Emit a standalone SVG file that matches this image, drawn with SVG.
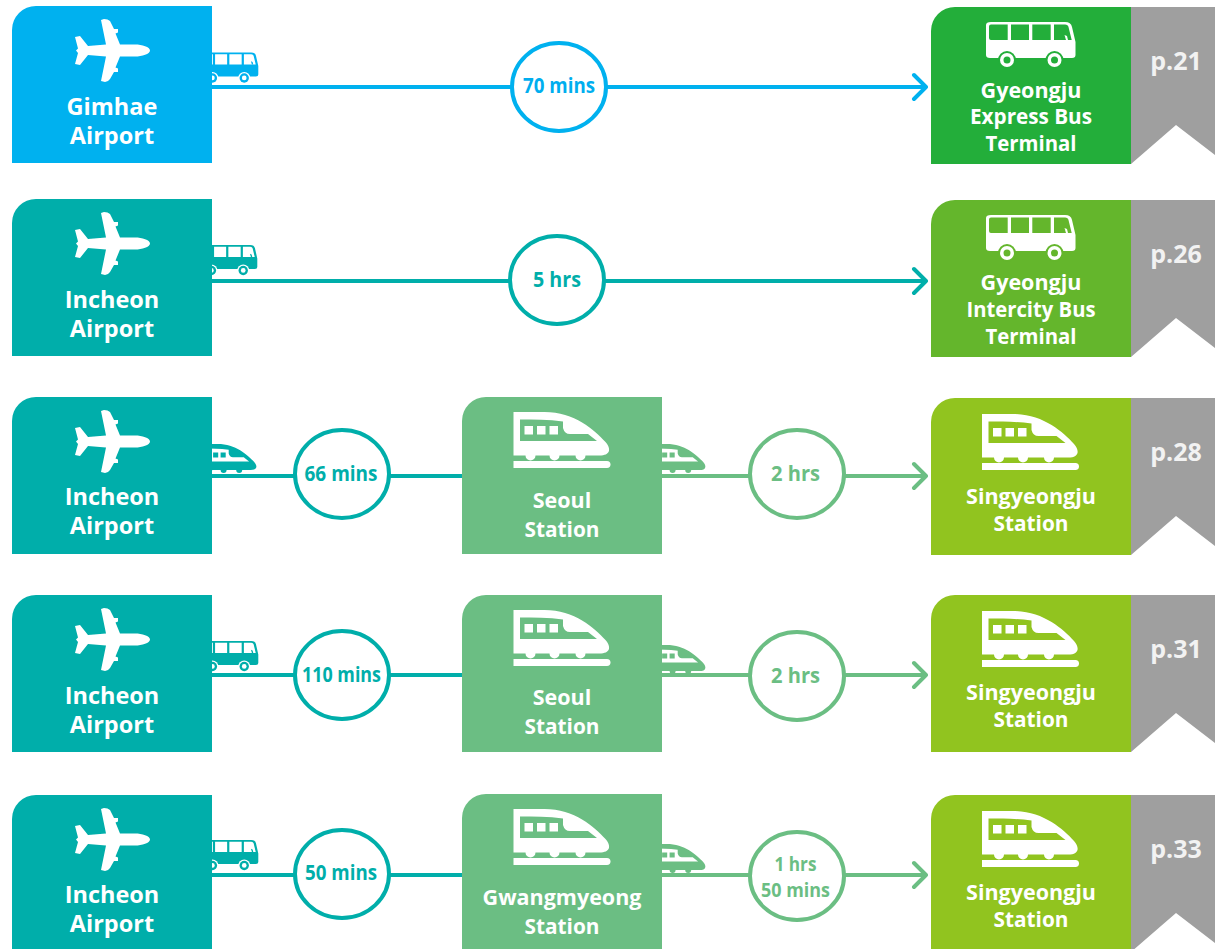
<svg xmlns="http://www.w3.org/2000/svg" width="1215" height="949" viewBox="0 0 1215 949">
<style>
text{font-family:"Open Sans","Noto Sans","Liberation Sans",sans-serif;font-weight:700;text-anchor:middle}
.a{font-size:23.500px;fill:#fff}
.b{font-size:21.500px;fill:#fff}
.c{font-size:21px}
.d{font-size:19.500px}
.p{font-size:25px;fill:#f2f2f2}
.t{stroke:#00aeaa}.g{stroke:#6bbe83}.l{stroke:#00b1ef}
.ln{stroke-width:4;fill:none;stroke-linecap:round;stroke-linejoin:round}
.o{fill:#fff;stroke-width:4}
</style>
<defs>
<path id="card" d="M0 157V24A24 24 0 0 1 24 0H200V157Z"/>
<path id="tab" fill="#9f9f9f" d="M0 0H84V148L45 118L0 157Z"/>
<path id="plane" d="M150 50.500C150 47 142 44.500 135 44.500H120L115.500 33.500 118 32.500V29H114L110 21Q108 19 104 19L101 20 106 44.500 88 46 80 36 75 37 78 48.500 76 50.500 78 53 75 64 80 65 88 55 106 56.500 101 81 105 82Q108 82 110 79L114 72H118V68.500L115.500 67.500 120 56.500H135C142 56.500 150 54 150 50.500Z"/>
<g id="bus">
<path d="M4 0H78Q84 0 85 5L88.500 20V33Q88.500 36 85 36H3Q-1 36 -1 33V3Q-1 0 4 0Z"/>
<path fill="currentColor" d="M4 2.500H20.700V18H4Q2 18 2 16V4.500Q2 2.500 4 2.500ZM24 2.500H42V18H24ZM45.300 2.500H63.700V18H45.300ZM67 2.500H78Q81 2.500 81.500 5L84.700 18H67Z"/>
<path d="M77.500 13L80 14 81 18H79Z"/>
<circle cx="20" cy="38" r="9" fill="currentColor"/><circle cx="67.500" cy="38" r="9" fill="currentColor"/>
<circle cx="20" cy="38" r="7"/><circle cx="67.500" cy="38" r="7"/>
<circle cx="20" cy="38" r="3.500" fill="currentColor"/><circle cx="67.500" cy="38" r="3.500" fill="currentColor"/>
</g>
<g id="train-body">
<path d="M0 0H31C61 0 81 18 92 30 98 37 97 43.500 86 43.500H72A5 5 0 0 1 62 43.500H46A5 5 0 0 1 36 43.500H22A5 5 0 0 1 12 43.500H0Z"/>
<path fill="currentColor" d="M6.500 7.500C20 7.500 35 7.500 49.500 9.500V16Q51 22 56.500 22H74.500L83.500 29H6.500Z"/>
<path d="M11 14H19.500V22.500H11ZM23.500 14H32V22.500H23.500ZM36 14H44.500V22.500H36Z"/>
</g>
<g id="train">
<use href="#train-body"/>
<path d="M0 49H93.500A3.500 3.500 0 0 1 93.500 56H0Z"/>
</g>
</defs>

<g id="connectors">
<path class="ln l" d="M212 87H926M914 75L926 87 914 99"/>
<path class="ln t" d="M212 281H926M914 269L926 281 914 293"/>
<path class="ln t" d="M212 476H462"/><path class="ln g" d="M661 476H926M914 464L926 476 914 488"/>
<path class="ln t" d="M212 675H462"/><path class="ln g" d="M661 675H926M914 663L926 675 914 687"/>
<path class="ln t" d="M212 875H462"/><path class="ln g" d="M661 875H926M914 863L926 875 914 887"/>
</g>

<g id="mini-icons">
<use href="#bus" transform="translate(199 52.500) scale(.67)" fill="#00b1ef" color="#fff"/>
<use href="#bus" transform="translate(198 245) scale(.67)" fill="#00aeaa" color="#fff"/>
<use href="#train-body" transform="translate(199 444) scale(.6)" fill="#00aeaa" color="#fff"/>
<use href="#train-body" transform="translate(648 444) scale(.6)" fill="#6bbe83" color="#fff"/>
<use href="#bus" transform="translate(199 641) scale(.67)" fill="#00aeaa" color="#fff"/>
<use href="#train-body" transform="translate(648 645) scale(.6)" fill="#6bbe83" color="#fff"/>
<use href="#bus" transform="translate(199 840) scale(.67)" fill="#00aeaa" color="#fff"/>
<use href="#train-body" transform="translate(648 844) scale(.6)" fill="#6bbe83" color="#fff"/>
</g>

<g id="n1-gimhae"><use href="#card" x="12" y="6" fill="#00b1ef"/><use href="#plane" fill="#fff"/><text class="a" x="112" y="115">Gimhae</text><text class="a" x="112" y="144">Airport</text></g>
<g id="n1-time"><ellipse class="o l" cx="559" cy="87" rx="47" ry="44"/><text class="c" x="559" y="93" fill="#00aeef" textLength="72" lengthAdjust="spacingAndGlyphs">70 mins</text></g>
<g id="n1-terminal"><use href="#card" x="931" y="7" fill="#23ae3a"/><use href="#bus" x="987" y="22" fill="#fff" color="#23ae3a"/><text class="b" x="1031" y="98">Gyeongju</text><text class="b" x="1031" y="124" textLength="122" lengthAdjust="spacingAndGlyphs">Express Bus</text><text class="b" x="1031" y="151" textLength="91" lengthAdjust="spacingAndGlyphs">Terminal</text></g>
<g id="n1-page"><use href="#tab" x="1131" y="7"/><text class="p" x="1176" y="70">p.21</text></g>

<g id="n2-incheon"><use href="#card" x="12" y="199" fill="#00aeaa"/><use href="#plane" y="193" fill="#fff"/><text class="a" x="112" y="308">Incheon</text><text class="a" x="112" y="337">Airport</text></g>
<g id="n2-time"><ellipse class="o t" cx="557" cy="280" rx="47" ry="44"/><text class="c" x="557" y="287" fill="#00aeaa" textLength="48" lengthAdjust="spacingAndGlyphs">5 hrs</text></g>
<g id="n2-terminal"><use href="#card" x="931" y="200" fill="#64b62c"/><use href="#bus" x="987" y="215" fill="#fff" color="#64b62c"/><text class="b" x="1031" y="290">Gyeongju</text><text class="b" x="1031" y="317" textLength="129" lengthAdjust="spacingAndGlyphs">Intercity Bus</text><text class="b" x="1031" y="344" textLength="91" lengthAdjust="spacingAndGlyphs">Terminal</text></g>
<g id="n2-page"><use href="#tab" x="1131" y="200"/><text class="p" x="1176" y="263">p.26</text></g>

<g id="n3-incheon"><use href="#card" x="12" y="397" fill="#00aeaa"/><use href="#plane" y="391" fill="#fff"/><text class="a" x="112" y="505">Incheon</text><text class="a" x="112" y="534">Airport</text></g>
<g id="n3-time1"><ellipse class="o t" cx="342" cy="474" rx="47" ry="44"/><text class="c" x="341" y="481" fill="#00aeaa" textLength="73" lengthAdjust="spacingAndGlyphs">66 mins</text></g>
<g id="n3-seoul"><use href="#card" x="462" y="397" fill="#6bbe83"/><use href="#train" x="513.500" y="412" fill="#fff" color="#6bbe83"/><text class="b" x="562" y="508">Seoul</text><text class="b" x="562" y="537" textLength="75" lengthAdjust="spacingAndGlyphs">Station</text></g>
<g id="n3-time2"><ellipse class="o g" cx="797" cy="474" rx="47" ry="44"/><text class="c" x="795.500" y="481" fill="#6bbe83" textLength="49" lengthAdjust="spacingAndGlyphs">2 hrs</text></g>
<g id="n3-station"><use href="#card" x="931" y="398" fill="#91c41f"/><use href="#train" x="982" y="414" fill="#fff" color="#91c41f"/><text class="b" x="1031" y="504">Singyeongju</text><text class="b" x="1031" y="531" textLength="75" lengthAdjust="spacingAndGlyphs">Station</text></g>
<g id="n3-page"><use href="#tab" x="1131" y="398"/><text class="p" x="1176" y="461">p.28</text></g>

<g id="n4-incheon"><use href="#card" x="12" y="595" fill="#00aeaa"/><use href="#plane" y="589" fill="#fff"/><text class="a" x="112" y="704">Incheon</text><text class="a" x="112" y="733">Airport</text></g>
<g id="n4-time1"><ellipse class="o t" cx="342" cy="675" rx="47" ry="44"/><text class="c" x="341.500" y="682" fill="#00aeaa" textLength="79" lengthAdjust="spacingAndGlyphs">110 mins</text></g>
<g id="n4-seoul"><use href="#card" x="462" y="595" fill="#6bbe83"/><use href="#train" x="513.500" y="610" fill="#fff" color="#6bbe83"/><text class="b" x="562" y="705">Seoul</text><text class="b" x="562" y="734" textLength="75" lengthAdjust="spacingAndGlyphs">Station</text></g>
<g id="n4-time2"><ellipse class="o g" cx="797" cy="676" rx="47" ry="44"/><text class="c" x="795.500" y="683" fill="#6bbe83" textLength="49" lengthAdjust="spacingAndGlyphs">2 hrs</text></g>
<g id="n4-station"><use href="#card" x="931" y="595" fill="#91c41f"/><use href="#train" x="982" y="611" fill="#fff" color="#91c41f"/><text class="b" x="1031" y="700">Singyeongju</text><text class="b" x="1031" y="727" textLength="75" lengthAdjust="spacingAndGlyphs">Station</text></g>
<g id="n4-page"><use href="#tab" x="1131" y="595"/><text class="p" x="1176" y="658">p.31</text></g>

<g id="n5-incheon"><use href="#card" x="12" y="795" fill="#00aeaa"/><use href="#plane" y="789" fill="#fff"/><text class="a" x="112" y="903">Incheon</text><text class="a" x="112" y="932">Airport</text></g>
<g id="n5-time1"><ellipse class="o t" cx="342" cy="874" rx="47" ry="44"/><text class="c" x="341" y="880" fill="#00aeaa" textLength="72" lengthAdjust="spacingAndGlyphs">50 mins</text></g>
<g id="n5-gwangmyeong"><use href="#card" x="462" y="794" fill="#6bbe83"/><use href="#train" x="513.500" y="809" fill="#fff" color="#6bbe83"/><text class="b" x="562" y="905">Gwangmyeong</text><text class="b" x="562" y="934" textLength="75" lengthAdjust="spacingAndGlyphs">Station</text></g>
<g id="n5-time2"><ellipse class="o g" cx="797" cy="876" rx="47" ry="44"/><text class="d" x="795.500" y="871" fill="#6bbe83" textLength="42" lengthAdjust="spacingAndGlyphs">1 hrs</text><text class="d" x="795.500" y="897" fill="#6bbe83" textLength="69" lengthAdjust="spacingAndGlyphs">50 mins</text></g>
<g id="n5-station"><use href="#card" x="931" y="795" fill="#91c41f"/><use href="#train" x="982" y="811" fill="#fff" color="#91c41f"/><text class="b" x="1031" y="900">Singyeongju</text><text class="b" x="1031" y="927" textLength="75" lengthAdjust="spacingAndGlyphs">Station</text></g>
<g id="n5-page"><use href="#tab" x="1131" y="795"/><text class="p" x="1176" y="858">p.33</text></g>
</svg>
